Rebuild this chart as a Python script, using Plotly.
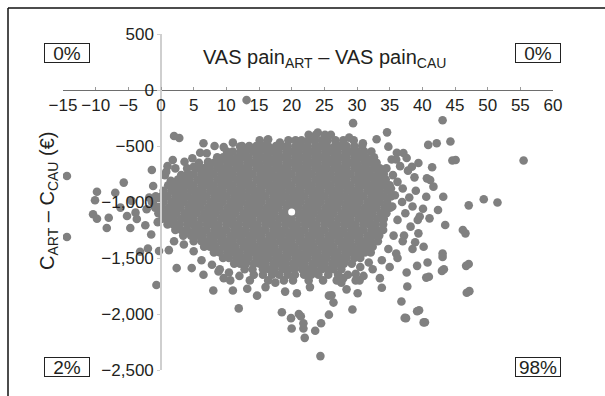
import plotly.graph_objects as go

# ---------------- data ----------------
# dense bootstrap core: one list of x values (VAS difference) per cost level (EUR)
core_levels = [-400, -450, -500, -550, -600, -650, -700, -750, -800, -850, -900,
               -950, -1000, -1050, -1100, -1150, -1200, -1250, -1300, -1350,
               -1400, -1450, -1500, -1550, -1600, -1650, -1700]
core_rows = [
    [22.6, 23.7, 25.1, 26.0],
    [15.1, 16.3, 19.5, 20.6, 21.5, 22.6, 23.5, 24.6, 25.5, 26.7, 27.9, 29.5],
    [12.4, 13.5, 14.6, 15.5, 16.4, 17.6, 18.5, 19.4, 20.6, 21.5, 22.4, 23.6, 24.5, 25.4, 26.6, 27.5, 28.4, 29.6, 30.8],
    [10.1, 11.0, 12.2, 13.0, 14.1, 15.0, 16.2, 17.1, 18.0, 19.2, 20.1, 21.0, 22.2, 23.1, 24.0, 25.2, 26.1, 27.0, 28.2, 29.1, 30.0, 31.1, 32.2],
    [8.6, 9.5, 10.4, 11.6, 12.5, 13.4, 14.6, 15.5, 16.4, 17.6, 18.5, 19.4, 20.6, 21.5, 22.4, 23.6, 24.5, 25.4, 26.6, 27.5, 28.4, 29.6, 30.5, 31.4, 32.6],
    [7.2, 8.1, 9.0, 10.2, 11.1, 12.0, 13.2, 14.1, 15.0, 16.2, 17.1, 18.0, 19.2, 20.1, 21.0, 22.2, 23.1, 24.0, 25.2, 26.1, 27.0, 28.2, 29.1, 30.0, 31.2, 32.1, 33.0],
    [5.6, 6.5, 7.4, 8.6, 9.5, 10.4, 11.6, 12.5, 13.4, 14.6, 15.5, 16.4, 17.6, 18.5, 19.4, 20.6, 21.5, 22.4, 23.6, 24.5, 25.4, 26.6, 27.5, 28.4, 29.6, 30.5, 31.4, 32.6, 33.5],
    [4.1, 5.0, 6.2, 7.1, 8.0, 9.2, 10.1, 11.0, 12.2, 13.1, 14.0, 15.2, 16.1, 17.0, 18.2, 19.1, 20.0, 21.2, 22.1, 23.0, 24.2, 25.1, 26.0, 27.2, 28.1, 29.0, 30.2, 31.1, 32.0, 33.2, 34.1],
    [2.6, 3.5, 4.4, 5.6, 6.5, 7.4, 8.6, 9.5, 10.4, 11.6, 12.5, 13.4, 14.6, 15.5, 16.4, 17.6, 18.5, 19.4, 20.6, 21.5, 22.4, 23.6, 24.5, 25.4, 26.6, 27.5, 28.4, 29.6, 30.5, 31.4, 32.6, 33.5, 34.4],
    [1.1, 2.0, 3.2, 4.1, 5.0, 6.2, 7.1, 8.0, 9.2, 10.1, 11.0, 12.2, 13.1, 14.0, 15.2, 16.1, 17.0, 18.2, 19.1, 20.0, 21.2, 22.1, 23.0, 24.2, 25.1, 26.0, 27.2, 28.1, 29.0, 30.2, 31.1, 32.0, 33.2, 34.1, 35.0],
    [0.4, 1.6, 2.5, 3.4, 4.6, 5.5, 6.4, 7.6, 8.5, 9.4, 10.6, 11.5, 12.4, 13.6, 14.5, 15.4, 16.6, 17.5, 18.4, 19.6, 20.5, 21.4, 22.6, 23.5, 24.4, 25.6, 26.5, 27.4, 28.6, 29.5, 30.4, 31.6, 32.5, 33.4, 34.6],
    [-0.8, 0.1, 1.0, 2.2, 3.1, 4.0, 5.2, 6.1, 7.0, 8.2, 9.1, 10.0, 11.2, 12.1, 13.0, 14.2, 15.1, 16.0, 17.2, 18.1, 19.0, 20.2, 21.1, 22.0, 23.2, 24.1, 25.0, 26.2, 27.1, 28.0, 29.2, 30.1, 31.0, 32.2, 33.1, 34.0, 35.2],
    [-1.4, -0.5, 0.4, 1.6, 2.5, 3.4, 4.6, 5.5, 6.4, 7.6, 8.5, 9.4, 10.6, 11.5, 12.4, 13.6, 14.5, 15.4, 16.6, 17.5, 18.4, 19.6, 20.5, 21.4, 22.6, 23.5, 24.4, 25.6, 26.5, 27.4, 28.6, 29.5, 30.4, 31.6, 32.5, 33.4, 34.6],
    [-0.9, 0.0, 1.2, 2.1, 3.0, 4.2, 5.1, 6.0, 7.2, 8.1, 9.0, 10.2, 11.1, 12.0, 13.2, 14.1, 15.0, 16.2, 17.1, 18.0, 19.2, 20.1, 21.0, 22.2, 23.1, 24.0, 25.2, 26.1, 27.0, 28.2, 29.1, 30.0, 31.2, 32.1, 33.0, 34.2, 35.1],
    [-0.4, 0.6, 1.5, 2.4, 3.6, 4.5, 5.4, 6.6, 7.5, 8.4, 9.6, 10.5, 11.4, 12.6, 13.5, 14.4, 15.6, 16.5, 17.4, 18.6, 19.5, 20.4, 21.6, 22.5, 23.4, 24.6, 25.5, 26.4, 27.6, 28.5, 29.4, 30.6, 31.5, 32.4, 33.6, 34.5],
    [0.2, 1.1, 2.0, 3.2, 4.1, 5.0, 6.2, 7.1, 8.0, 9.2, 10.1, 11.0, 12.2, 13.1, 14.0, 15.2, 16.1, 17.0, 18.2, 19.1, 20.0, 21.2, 22.1, 23.0, 24.2, 25.1, 26.0, 27.2, 28.1, 29.0, 30.2, 31.1, 32.0, 33.2, 34.1],
    [1.0, 1.9, 2.8, 4.0, 4.9, 5.8, 7.0, 7.9, 8.8, 10.0, 10.9, 11.8, 13.0, 13.9, 14.8, 16.0, 16.9, 17.8, 19.0, 19.9, 20.8, 22.0, 22.9, 23.8, 25.0, 25.9, 26.8, 28.0, 28.9, 29.8, 31.0, 31.9, 32.8, 34.0],
    [2.2, 3.1, 4.0, 5.2, 6.1, 7.0, 8.2, 9.1, 10.0, 11.2, 12.1, 13.0, 14.2, 15.1, 16.0, 17.2, 18.1, 19.0, 20.2, 21.1, 22.0, 23.2, 24.1, 25.0, 26.2, 27.1, 28.0, 29.2, 30.1, 31.0, 32.2, 33.1, 34.0],
    [3.4, 4.6, 5.5, 6.4, 7.6, 8.5, 9.4, 10.6, 11.5, 12.4, 13.6, 14.5, 15.4, 16.6, 17.5, 18.4, 19.6, 20.5, 21.4, 22.6, 23.5, 24.4, 25.6, 26.5, 27.4, 28.6, 29.5, 30.4, 31.6, 32.5, 33.4],
    [5.0, 6.2, 7.1, 8.0, 9.2, 10.1, 11.0, 12.2, 13.1, 14.0, 15.2, 16.1, 17.0, 18.2, 19.1, 20.0, 21.2, 22.1, 23.0, 24.2, 25.1, 26.0, 27.2, 28.1, 29.0, 30.2, 31.1, 32.0, 33.2],
    [6.6, 7.5, 8.4, 9.6, 10.5, 11.4, 12.6, 13.5, 14.4, 15.6, 16.5, 17.4, 18.6, 19.5, 20.4, 21.6, 22.5, 23.4, 24.6, 25.5, 26.4, 27.6, 28.5, 29.4, 30.6, 31.5, 32.4],
    [8.1, 9.0, 10.2, 11.1, 12.0, 13.2, 14.1, 15.0, 16.2, 17.1, 18.0, 19.2, 20.1, 21.0, 22.2, 23.1, 24.0, 25.2, 26.1, 27.0, 28.2, 29.1, 30.0, 31.2, 32.1],
    [9.5, 10.4, 11.6, 12.5, 13.4, 14.6, 15.5, 16.4, 17.6, 18.5, 19.4, 20.6, 21.5, 22.4, 23.6, 24.5, 25.4, 26.6, 27.5, 28.4, 29.6, 30.5],
    [11.2, 12.1, 13.0, 14.2, 15.1, 16.0, 17.2, 18.1, 19.0, 20.2, 21.1, 22.0, 23.2, 24.1, 25.0, 26.2, 27.1, 28.0, 29.2],
    [12.8, 14.0, 15.6, 16.5, 17.4, 18.6, 19.5, 20.4, 21.6, 22.5, 23.4, 24.6, 25.5, 26.4, 27.6],
    [14.2, 15.6, 17.0, 18.1, 19.4, 20.5, 21.9, 23.0, 24.1, 25.6, 27.1, 28.6],
    [13.6, 16.4, 18.8, 20.2, 22.6, 24.8, 26.9, 29.8],
]

# scattered bootstrap replicates around the core
fringe_x = [
    -14.4, -14.4, -10.1, -9.8, -10.4, -9.8, -8.3, -8.0, -7.0, -6.2, -5.7, -5.2, -4.7, -4.5,
    -3.9, -3.7, -3.2, -2.4, -2.2, -2.0, -1.8, -1.2, -1.4, -0.9, -0.3, -0.7, -1.5, -0.5,
    2.0, 2.8, 1.8, 5.0, 6.5, 7.0, 7.2, 7.4, 10.1, 12.1, 4.0, 3.1, 0.6, 1.5, 5.8, 9.6, 11.0,
    13.1, 16.4, 18.2, 29.4, 28.8, 30.9, 24.0,
    33.0, 34.6, 34.8, 36.0, 37.1, 37.6, 38.4, 39.4, 40.9, 42.2, 43.1, 44.3, 44.6, 45.1,
    41.5, 41.2, 40.7, 41.7, 43.2, 40.6, 42.4, 40.1, 43.5, 41.1, 39.3, 39.4, 46.6, 46.2,
    43.1, 43.1, 43.0, 46.7, 46.8, 40.8, 39.2, 40.6, 38.5, 36.2, 47.1, 49.4, 51.5, 55.5,
    34.5, 35.5, 36.2, 37.0, 35.8, 36.9, 38.0, 37.4, 36.2, 38.2, 35.6, 37.0, 34.8, 36.0,
    33.8, 35.0, 37.6, 32.4, 31.0, 33.5, 35.2, 38.8, 37.8, 36.6, 39.0, 38.5, 39.6, 37.2,
    38.9, 40.2, 35.4, 36.1, 35.3,
    2.4, 4.7, 8.0, 11.0, 10.6, 11.9, 14.7, 13.2, 18.5, 19.9, 20.0, 21.1, 21.4, 21.8, 21.8,
    22.0, 24.5, 24.4, 25.7, 25.7, 26.4, 29.3, 36.8, 37.5, 39.5, 40.4, 47.2, 47.1, 43.3,
    41.0, 33.8, 20.8, 6.5, 8.8, 9.6, 16.0, 17.5, 22.8, 27.6, 30.4, 12.0, 19.0, 28.4,
    30.1, 26.1, 37.7, 23.6, 37.3, 40.2, 39.2,
    3.6, 2.2, 0.8, 4.8, 6.0, 8.2, 1.0, 3.5, 5.0, 6.2, 7.8, 9.0, 10.4, 2.0, 1.2,
    30.5, 31.8, 29.8, 27.9,
]
fringe_y = [
    -768, -1312, -985, -908, -1110, -1150, -1232, -1140, -917, -1050, -827, -1125, -1232, -990,
    -1095, -1152, -1444, -1208, -1065, -1415, -960, -857, -714, -1005, -1437, -1741, -1290, -1180,
    -411, -428, -625, -685, -475, -565, -640, -700, -625, -505, -700, -760, -760, -810, -650, -510, -470,
    -90, -440, -470, -296, -425, -475, -380,
    -440, -378, -506, -620, -563, -607, -685, -652, -490, -476, -270, -460, -630, -625,
    -690, -803, -789, -863, -953, -953, -1072, -1060, -1205, -1146, -1160, -1280, -1280, -1250,
    -1460, -1490, -1615, -1570, -1810, -1540, -1570, -1675, -1420, -1500, -1030, -975, -1005, -630,
    -700, -760, -820, -880, -940, -1000, -960, -1100, -1160, -1220, -1300, -1350, -1420, -1460,
    -1520, -1580, -1630, -1600, -1660, -1680, -880, -780, -720, -680, -900, -1040, -1130, -1300,
    -1360, -1400, -1040, -560, -620,
    -1590, -1590, -1790, -1790, -1700, -1950, -1836, -1775, -1985, -2037, -2130, -2000, -2020, -2083, -2130,
    -2213, -2083, -2376, -2006, -1836, -1898, -1960, -1889, -2037, -1966, -2074, -1796, -1553, -1600,
    -1667, -1765, -1815, -1650, -1620, -1680, -1760, -1720, -1760, -1720, -1700, -1660, -1800, -1780,
    -1815, -1832, -1755, -2150, -2035, -2075, -1975,
    -640, -700, -730, -610, -560, -500, -680, -1380, -1440, -1520, -1560, -1600, -1630, -1350, -1430,
    -1580, -1540, -1640, -1680,
]

mean_x = [20.0]
mean_y = [-1090]

quadrant_labels = ["0%", "0%", "2%", "98%"]
x_title = "VAS pain<sub>ART</sub> \u2013 VAS pain<sub>CAU</sub>"
y_title = "C<sub>ART</sub> \u2013 C<sub>CAU</sub> (\u20ac)"

# ---------------- build ----------------
pts_x, pts_y = [], []
for lvl, row in zip(core_levels, core_rows):
    pts_x.extend(row)
    pts_y.extend([lvl] * len(row))
pts_x.extend(fringe_x)
pts_y.extend(fringe_y)

FONT = "Liberation Sans, Arial, Helvetica, sans-serif"
TXT = "#231f20"
W, H = 605, 396
ML, MR, MT, MB = 63, 52, 34, 26
PW, PH = W - ML - MR, H - MT - MB


def px2x(px):
    return (px - ML) / PW


def py2y(py):
    return (H - MB - py) / PH


fig = go.Figure()
fig.add_trace(go.Scatter(x=pts_x, y=pts_y, mode="markers",
                         marker=dict(size=8.6, color="rgb(128,128,128)", line=dict(width=0)),
                         hoverinfo="skip", showlegend=False))
fig.add_trace(go.Scatter(x=mean_x, y=mean_y, mode="markers",
                         marker=dict(size=7, color="white", line=dict(width=0)),
                         hoverinfo="skip", showlegend=False))

xr = [-15, 60]
yr = [-2500, 500]
fig.update_layout(
    width=W, height=H, autosize=False,
    margin=dict(l=ML, r=MR, t=MT, b=MB, pad=0),
    paper_bgcolor="white", plot_bgcolor="white",
    font=dict(family=FONT, size=17, color=TXT),
    xaxis=dict(range=xr, dtick=5, tick0=0, showgrid=False, zeroline=False,
               anchor="free", position=(0 - yr[0]) / (yr[1] - yr[0]), side="bottom",
               showline=True, linecolor="#6e6e6e", linewidth=1,
               ticks="inside", ticklen=3, tickcolor="#9a9a9a",
               tickfont=dict(size=17, color=TXT)),
    yaxis=dict(range=yr, dtick=500, tick0=0, showgrid=False, zeroline=False,
               anchor="free", position=(0 - xr[0]) / (xr[1] - xr[0]), side="left",
               showline=True, linecolor="#cfcfcf", linewidth=1.5,
               ticks="outside", ticklen=3, tickcolor="#cfcfcf",
               tickformat=",d", tickfont=dict(size=17, color=TXT)),
)

# outer frame (top and left edges visible)
fig.add_shape(type="line", xref="paper", yref="paper",
              x0=px2x(8), y0=py2y(8), x1=px2x(W + 5), y1=py2y(8),
              line=dict(color="#111", width=1.5))
fig.add_shape(type="line", xref="paper", yref="paper",
              x0=px2x(8), y0=py2y(8), x1=px2x(8), y1=py2y(H + 5),
              line=dict(color="#111", width=1.5))

box_pos = [(66.5, 53), (538, 53), (66.5, 367), (538, 366.5)]
for lab, (bx, by) in zip(quadrant_labels, box_pos):
    fig.add_annotation(x=px2x(bx), y=py2y(by), xref="paper", yref="paper",
                       text=lab, showarrow=False, xanchor="center", yanchor="middle",
                       width=44, height=18, borderpad=0, bordercolor="#222", borderwidth=1,
                       font=dict(size=19, color=TXT, family=FONT))

fig.add_annotation(x=px2x(324), y=py2y(59), xref="paper", yref="paper",
                   text=x_title, showarrow=False, xanchor="center", yanchor="middle",
                   font=dict(size=20, color=TXT, family=FONT))
fig.add_annotation(x=px2x(48), y=py2y(201), xref="paper", yref="paper",
                   text=y_title, showarrow=False, textangle=-90,
                   xanchor="center", yanchor="middle",
                   font=dict(size=20, color=TXT, family=FONT))

fig.write_html("out.html")
